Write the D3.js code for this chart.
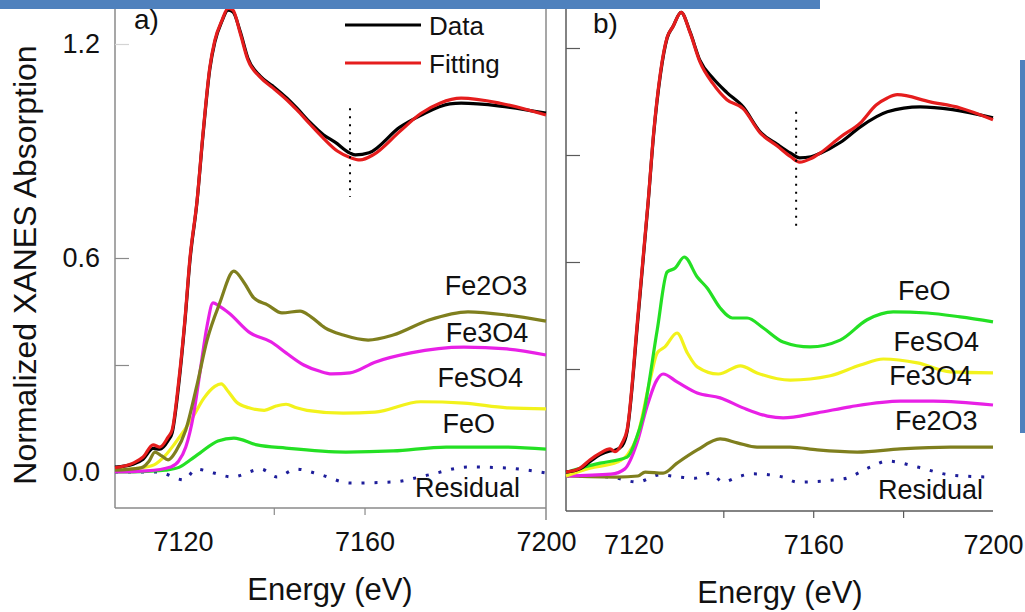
<!DOCTYPE html>
<html>
<head>
<meta charset="utf-8">
<script src="https://cdnjs.cloudflare.com/ajax/libs/d3/7.8.5/d3.min.js"></script>
<style>
  body { margin: 0; background: #fff; }
  svg { display: block; font-family: 'Liberation Sans', Arial, sans-serif; }
</style>
</head>
<body>
<script>
// [energy eV, normalized absorption]

// panel a
const aData = [[7105,0.014],[7109,0.022],[7111.2,0.036],[7113.4,0.066],[7114.9,0.064],[7116.7,0.088],[7117.6,0.11],[7119,0.24],[7120.4,0.42],[7121.5,0.59],[7123.1,0.76],[7124.4,0.945],[7125.9,1.13],[7127,1.205],[7128.6,1.265],[7129.9,1.295],[7131,1.29],[7132.6,1.235],[7134.3,1.16],[7137,1.11],[7139.8,1.082],[7142.9,1.048],[7145.1,1.02],[7148,0.98],[7151,0.945],[7153.5,0.925],[7156.8,0.894],[7158,0.889],[7161,0.895],[7167.8,0.967],[7172.4,1.0],[7178.8,1.032],[7181.3,1.034],[7189.9,1.026],[7200,1.006]]
const aFit = [[7105,0.012],[7109,0.025],[7111.2,0.042],[7113.4,0.076],[7114.9,0.07],[7116.7,0.098],[7117.6,0.118],[7119,0.25],[7120.4,0.426],[7121.5,0.597],[7123.1,0.763],[7124.4,0.95],[7125.9,1.135],[7127,1.21],[7128.6,1.267],[7129.9,1.30],[7131,1.295],[7132.6,1.23],[7134.3,1.155],[7137,1.107],[7139.8,1.077],[7142.9,1.043],[7145.1,1.015],[7148,0.975],[7151,0.935],[7154,0.9],[7156.8,0.882],[7159,0.875],[7162,0.89],[7167.8,0.955],[7172.4,1.005],[7176.6,1.034],[7181.3,1.048],[7189.9,1.034],[7200,1.001]]
const aFe2O3 = [[7105,0.005],[7110,0.01],[7111.2,0.014],[7112.5,0.03],[7113.8,0.056],[7115.3,0.045],[7116.7,0.034],[7118.5,0.06],[7120.6,0.118],[7123,0.24],[7125.3,0.37],[7128.1,0.474],[7131.2,0.563],[7133.5,0.53],[7135.6,0.488],[7138.7,0.468],[7141.8,0.446],[7145.8,0.451],[7148.2,0.435],[7151.3,0.404],[7155.3,0.384],[7160.8,0.37],[7166.3,0.384],[7174.2,0.426],[7182.8,0.449],[7191.4,0.44],[7200,0.423]]
const aFe3O4 = [[7105,0.0],[7112,0.003],[7117.3,0.014],[7119,0.03],[7120.6,0.07],[7122.3,0.16],[7123.7,0.277],[7125.3,0.41],[7126.6,0.474],[7128,0.465],[7130.1,0.446],[7134.8,0.39],[7139.4,0.365],[7142.7,0.334],[7146.6,0.30],[7150,0.283],[7152.8,0.275],[7156.8,0.278],[7162.3,0.308],[7170.2,0.334],[7181.9,0.35],[7191.4,0.345],[7200,0.328]]
const aFeSO4 = [[7105,0.005],[7110,0.01],[7113.6,0.02],[7116,0.045],[7118.2,0.08],[7122.2,0.155],[7124.6,0.207],[7127,0.24],[7128.4,0.247],[7130,0.225],[7131.7,0.197],[7134.5,0.18],[7137.9,0.173],[7140.5,0.185],[7142.7,0.19],[7145,0.18],[7147.3,0.173],[7155.3,0.165],[7162.3,0.168],[7172.4,0.197],[7181.9,0.193],[7191.4,0.18],[7200,0.177]]
const aFeO = [[7105,0.0],[7112,0.002],[7116,0.005],[7119.1,0.013],[7121.5,0.033],[7123.7,0.053],[7127.7,0.087],[7131.2,0.095],[7136.3,0.076],[7142.7,0.067],[7155.9,0.056],[7166.3,0.059],[7178,0.07],[7189.9,0.07],[7200,0.064]]
const aResid = [[7105,0.0],[7114.3,0.0],[7120.2,-0.022],[7122.9,0.008],[7126.8,-0.003],[7130.8,-0.014],[7137.2,0.008],[7140.7,-0.014],[7144.9,0.008],[7150.4,-0.008],[7156.8,-0.031],[7166.3,-0.028],[7174.2,-0.008],[7182.8,0.014],[7191.4,0.011],[7200,-0.003]]

// panel b
const bData = [[7105,0.011],[7108.1,0.02],[7110.3,0.04],[7112.6,0.06],[7114.8,0.07],[7115.9,0.072],[7117.5,0.085],[7118.6,0.125],[7121,0.44],[7123.3,0.77],[7124.5,0.958],[7126,1.125],[7127.5,1.228],[7128.8,1.26],[7130.6,1.30],[7132.6,1.245],[7134.8,1.165],[7137.7,1.115],[7140.8,1.075],[7144.4,1.035],[7148.2,0.965],[7152,0.93],[7155,0.905],[7157,0.892],[7159.5,0.895],[7161.6,0.905],[7166,0.935],[7170.5,0.979],[7176.5,1.021],[7183.8,1.035],[7191,1.027],[7200,1.004]]
const bFit = [[7105,0.011],[7108.1,0.022],[7110.3,0.045],[7112.6,0.064],[7114.8,0.076],[7115.9,0.068],[7117.5,0.093],[7118.6,0.13],[7121,0.45],[7123.3,0.774],[7124.5,0.962],[7126,1.13],[7127.5,1.23],[7128.8,1.26],[7130.6,1.30],[7132.6,1.243],[7134.8,1.161],[7137.7,1.10],[7140.8,1.055],[7144.4,1.03],[7148.2,0.962],[7152,0.925],[7155,0.895],[7157,0.88],[7159.5,0.89],[7161.6,0.906],[7166,0.95],[7170.5,0.99],[7174,1.04],[7176.5,1.06],[7178.7,1.069],[7186,1.049],[7192.7,1.032],[7200,0.999]]
const bFeO = [[7105,0.01],[7110,0.028],[7112.6,0.036],[7118.6,0.053],[7120.5,0.1],[7122.1,0.166],[7125.3,0.41],[7127.5,0.572],[7129.3,0.583],[7131.3,0.614],[7134.2,0.558],[7136.4,0.527],[7139.3,0.471],[7142,0.443],[7145.3,0.443],[7148.9,0.415],[7153.3,0.376],[7159.3,0.362],[7166,0.381],[7172,0.438],[7177.8,0.46],[7185.4,0.457],[7192.7,0.446],[7200,0.432]]
const bFeSO4 = [[7105,0.0],[7110.3,0.022],[7116.4,0.039],[7118.7,0.06],[7120.8,0.109],[7123.7,0.269],[7125.3,0.345],[7127,0.362],[7129.7,0.401],[7132,0.345],[7134.2,0.306],[7138.9,0.286],[7143.8,0.309],[7147.5,0.289],[7154.9,0.269],[7163.8,0.281],[7170.5,0.311],[7175.6,0.328],[7183.2,0.317],[7190.5,0.292],[7200,0.289]]
const bFe3O4 = [[7105,0.0],[7115,0.005],[7118.1,0.02],[7120.8,0.093],[7123,0.194],[7125.2,0.269],[7126.6,0.286],[7129.7,0.264],[7134.2,0.233],[7139.3,0.219],[7144.4,0.191],[7149.8,0.168],[7153.3,0.163],[7160.9,0.177],[7168.2,0.194],[7179.4,0.21],[7186.7,0.21],[7200,0.199]]
const bFe2O3 = [[7105,0.0],[7116.4,-0.003],[7121,0.0],[7122.6,0.011],[7126.6,0.008],[7129.7,0.036],[7134.2,0.073],[7139.3,0.104],[7143.1,0.093],[7147.5,0.081],[7154.9,0.081],[7160.9,0.073],[7169.8,0.067],[7179.4,0.076],[7190.5,0.081],[7200,0.081]]
const bResid = [[7105,0.0],[7114.8,-0.003],[7120.8,-0.017],[7125.9,0.003],[7130.4,-0.003],[7133.7,-0.006],[7137.1,0.008],[7140,-0.017],[7143.1,-0.003],[7146.6,0.006],[7153.3,-0.003],[7156.4,-0.017],[7166.7,-0.008],[7172.7,0.025],[7176.5,0.042],[7183.2,0.025],[7190.5,0.003],[7199.4,-0.003]]

// text labels: [name, energy, value] where the label sits
const aLabels = [['Fe2O3', 7186.8, 0.496], ['Fe3O4', 7187, 0.364], ['FeSO4', 7185.5, 0.238], ['FeO', 7183, 0.109], ['Residual', 7182.7, -0.07]]
const bLabels = [['FeO', 7184.7, 0.494], ['FeSO4', 7187.4, 0.351], ['Fe3O4', 7186.1, 0.255], ['Fe2O3', 7187.4, 0.129], ['Residual', 7186.1, -0.065]]

const xLabelTicks = [7120, 7160, 7200]
const yLabelTicks = [0, 0.6, 1.2]
const legendNames = ['Data', 'Fitting']

const C = {
  data: '#000000', fit: '#e51d1d', fe2o3: '#7f7f1e', fe3o4: '#e820e6',
  feso4: '#f2f21c', feo: '#24e024', resid: '#1d1d9a'
}

const W = 1025, H = 612
const svg = d3.select('body').append('svg').attr('width', W).attr('height', H)
const font = 27

const panels = [
  {
    name: 'a)', nameX: 134, nameY: 29,
    x: d3.scaleLinear().domain([7105, 7200]).range([115, 546]),
    y: d3.scaleLinear().domain([0, 1.2]).range([472, 44]),
    bottom: 508, axisColor: '#8a8a8a',
    series: [[aResid, C.resid, true], [aFeO, C.feo], [aFeSO4, C.feso4], [aFe3O4, C.fe3o4], [aFe2O3, C.fe2o3], [aData, C.data], [aFit, C.fit]],
    labels: aLabels, minorX: [7140, 7160], inY: [0.3, 0.6, 1.2], yLabels: true,
    mark: [7156.8, 1.02, 0.771], rightBorder: true, titleX: 330, titleY: 600, lblPad: 24
  },
  {
    name: 'b)', nameX: 593, nameY: 33,
    x: d3.scaleLinear().domain([7105, 7200]).range([566, 993]),
    y: d3.scaleLinear().domain([0, 1.2]).range([476, 48]),
    bottom: 511, axisColor: '#5a5a5a',
    series: [[bResid, C.resid, true], [bFe2O3, C.fe2o3], [bFe3O4, C.fe3o4], [bFeSO4, C.feso4], [bFeO, C.feo], [bData, C.data], [bFit, C.fit]],
    labels: bLabels, minorX: [7140, 7160, 7180], inY: [0.3, 0.6, 0.9, 1.2], yLabels: false,
    mark: [7156.2, 1.021, 0.701], rightBorder: false, titleX: 780, titleY: 603, lblPad: 24
  }
]

panels.forEach(p => {
  const g = svg.append('g')
  const [x0, x1] = p.x.range()

  // axis lines
  g.append('line').attr('x1', x0).attr('x2', x0).attr('y1', 0).attr('y2', p.bottom)
    .attr('stroke', p.axisColor).attr('stroke-width', 1.5)
  g.append('line').attr('x1', x0).attr('x2', x1).attr('y1', p.bottom).attr('y2', p.bottom)
    .attr('stroke', p.axisColor).attr('stroke-width', 1.5)
  if (p.rightBorder) {
    g.append('line').attr('x1', x1).attr('x2', x1).attr('y1', 0).attr('y2', p.bottom + 12)
      .attr('stroke', p.axisColor).attr('stroke-width', 1.5)
  }

  // inward y ticks (the top one is faint in panel a)
  const yt = g.append('g').attr('transform', `translate(${x0},0)`)
    .call(d3.axisRight(p.y).tickValues(p.inY).tickSize(14).tickFormat(''))
  yt.select('.domain').remove()
  yt.selectAll('line').attr('stroke', d => (p.yLabels && d === 1.2) ? '#d4d4d4' : p.axisColor)
    .attr('stroke-width', 1.2)

  if (p.yLabels) {
    const yl = g.append('g').attr('transform', `translate(${x0},0)`)
      .call(d3.axisLeft(p.y).tickValues(yLabelTicks).tickSize(0).tickPadding(15).tickFormat(d3.format('.1f')))
    yl.select('.domain').remove()
    yl.selectAll('text').attr('font-size', font).attr('font-family', null).attr('fill', '#111')
  }

  // x ticks
  const xt = g.append('g').attr('transform', `translate(0,${p.bottom})`)
    .call(d3.axisBottom(p.x).tickValues(p.minorX).tickSize(7).tickFormat(''))
  xt.select('.domain').remove()
  xt.selectAll('line').attr('stroke', p.axisColor).attr('stroke-width', 1.2)

  const xl = g.append('g').attr('transform', `translate(0,${p.bottom})`)
    .call(d3.axisBottom(p.x).tickValues(xLabelTicks).tickSize(0).tickPadding(p.lblPad).tickFormat(d3.format('d')))
  xl.select('.domain').remove()
  xl.selectAll('text').attr('font-size', font).attr('font-family', null).attr('fill', '#111')

  g.append('text').attr('x', p.titleX).attr('y', p.titleY).attr('text-anchor', 'middle')
    .attr('font-size', 31).attr('fill', '#111').text('Energy (eV)')

  // curves
  const line = d3.line().x(d => p.x(d[0])).y(d => p.y(d[1])).curve(d3.curveMonotoneX)
  p.series.forEach(([vals, color, dotted]) => {
    g.append('path').datum(vals).attr('d', line).attr('fill', 'none')
      .attr('stroke', color).attr('stroke-width', dotted ? 3 : 3.2)
      .attr('stroke-linejoin', 'round')
      .attr('stroke-dasharray', dotted ? '3,10' : null)
  })

  // dotted marker
  g.append('line').attr('x1', p.x(p.mark[0])).attr('x2', p.x(p.mark[0]))
    .attr('y1', p.y(p.mark[1])).attr('y2', p.y(p.mark[2]))
    .attr('stroke', '#000').attr('stroke-width', 2).attr('stroke-dasharray', '2,6')

  g.selectAll('text.lbl').data(p.labels).join('text').attr('class', 'lbl')
    .attr('x', d => p.x(d[1])).attr('y', d => p.y(d[2])).attr('text-anchor', 'middle')
    .attr('font-size', font).attr('fill', '#111').text(d => d[0])

  g.append('text').attr('x', p.nameX).attr('y', p.nameY).attr('font-size', 28)
    .attr('fill', '#111').text(p.name)
})

// legend
const lg = svg.append('g')
legendNames.forEach((n, i) => {
  const yy = 25 + i * 38
  lg.append('line').attr('x1', 345).attr('x2', 421).attr('y1', yy).attr('y2', yy)
    .attr('stroke', i === 0 ? C.data : C.fit).attr('stroke-width', 3.2)
  lg.append('text').attr('x', 429).attr('y', yy + 9.5).attr('font-size', 26)
    .attr('fill', '#111').text(n)
})

// y axis title
svg.append('text').attr('transform', 'translate(36,265) rotate(-90)')
  .attr('text-anchor', 'middle').attr('font-size', 32).attr('fill', '#111')
  .text('Normalized XANES Absorption')

// slide decoration bars
svg.append('rect').attr('x', 0).attr('y', 0).attr('width', 820).attr('height', 9).attr('fill', '#4f81bd')
svg.append('rect').attr('x', 1020).attr('y', 60).attr('width', 5).attr('height', 373).attr('fill', '#4f81bd')
</script>
</body>
</html>
